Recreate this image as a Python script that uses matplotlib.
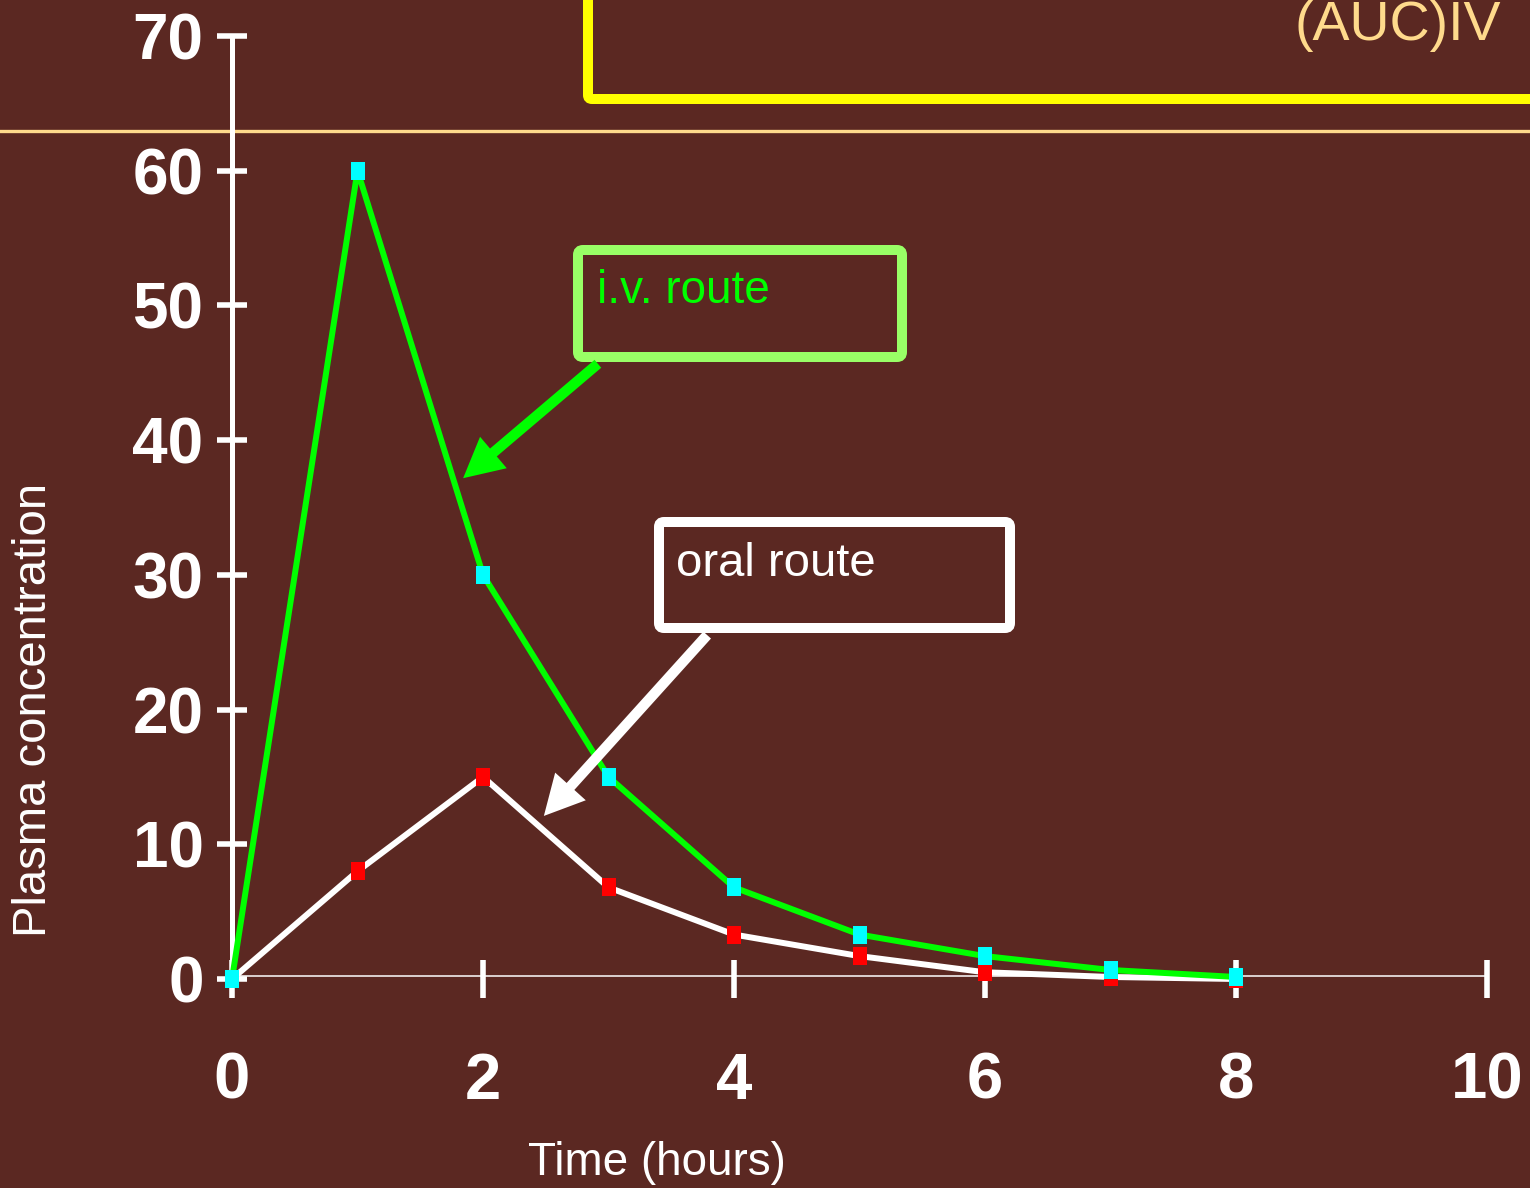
import numpy as np
import matplotlib
matplotlib.use("Agg")
import matplotlib.pyplot as plt
from matplotlib.lines import Line2D
from matplotlib.patches import FancyBboxPatch, FancyArrowPatch

plt.rcParams["font.family"] = ["Liberation Sans", "DejaVu Sans"]

# data
hours = [0, 1, 2, 3, 4, 5, 6, 7, 8]
iv_conc = [0, 60, 30, 15, 6.8, 3.3, 1.7, 0.67, 0.15]
oral_conc = [0, 8, 15, 6.8, 3.3, 1.7, 0.5, 0.15, 0]
x_ticks = [0, 2, 4, 6, 8, 10]
y_ticks = [0, 10, 20, 30, 40, 50, 60, 70]

BG = "#5B2822"
TAN = "#FFDA8C"
W, H = 1530, 1188

# tall rectangle marker, 13x18 px
RECT = [(-0.361, -0.5), (0.361, -0.5), (0.361, 0.5), (-0.361, 0.5), (-0.361, -0.5)]

fig = plt.figure(figsize=(W / 100, H / 100), dpi=100, facecolor=BG)

# horizontal rule behind everything
fig.add_artist(Line2D([0, 1], [1 - 131 / H, 1 - 131 / H], transform=fig.transFigure,
                      color=TAN, lw=2.4, zorder=-1))

ax = fig.add_axes([232 / W, 1 - 979 / H, (1487 - 232) / W, (979 - 36) / H])
ax.patch.set_visible(False)

ax.plot(hours, oral_conc, color="white", lw=4.3, zorder=3, clip_on=False)
ax.plot(hours, iv_conc, color="#00FF00", lw=4.3, zorder=4, clip_on=False)
ax.plot(hours, oral_conc, ls="none", marker=RECT, ms=13.5, mfc="#FF0000", mew=0,
        zorder=5, clip_on=False)
ax.plot(hours, iv_conc, ls="none", marker=RECT, ms=13.5, mfc="#00FFFF", mew=0,
        zorder=6, clip_on=False)

# double thin x axis line
ax.axhline(0.2, color="white", lw=1.1, zorder=2)
ax.axhline(-0.2, color="white", lw=1.1, zorder=2)

ax.set_xlim(0, 10)
ax.set_ylim(0, 70)
ax.set_xticks(x_ticks)
ax.set_yticks(y_ticks)
ax.set_xticklabels([str(t) for t in x_ticks], fontweight="bold")
ax.set_yticklabels([str(t) for t in y_ticks], fontweight="bold")
ax.tick_params(axis="x", direction="inout", length=27, width=4, color="white",
               labelcolor="white", labelsize=47, pad=39)
ax.tick_params(axis="y", direction="inout", length=21, width=4, color="white",
               labelcolor="white", labelsize=46, pad=10)
for lbl in ax.get_xticklabels():
    lbl.set_x(lbl.get_position()[0])

for s in ["top", "right", "bottom"]:
    ax.spines[s].set_visible(False)
ax.spines["left"].set_color("white")
ax.spines["left"].set_linewidth(3.6)

# overlay in pixel coords for callouts and labels
ov = fig.add_axes([0, 0, 1, 1], zorder=5)
ov.set_xlim(0, W)
ov.set_ylim(H, 0)
ov.patch.set_visible(False)
ov.axis("off")

ov.text(34, 710, "Plasma concentration", rotation=90, ha="center", va="center",
        color="white", fontsize=34)
ov.text(657, 1175, "Time (hours)", ha="center", va="baseline", color="white", fontsize=33)

# yellow formula box (cut by slide edge)
ov.add_patch(FancyBboxPatch((588, -40), 980, 139, boxstyle="round,pad=0,rounding_size=4",
                            fc="none", ec="#FFFF00", lw=7.2, clip_on=False))
ov.text(1501, 40, "(AUC)IV", ha="right", va="baseline", color=TAN, fontsize=40)

# i.v. route callout
ov.add_patch(FancyBboxPatch((578, 250), 324, 107, boxstyle="round,pad=0,rounding_size=5",
                            fc="none", ec="#99FF66", lw=7.2))
ov.text(597, 303, "i.v. route", ha="left", va="baseline", color="#00FF00", fontsize=33)
ov.add_patch(FancyArrowPatch((600, 362), (461, 480), mutation_scale=22,
                             arrowstyle="simple,head_length=1.3,head_width=1.35,tail_width=0.34",
                             fc="#00FF00", ec="none", lw=0))

# oral route callout
ov.add_patch(FancyBboxPatch((659, 522), 351, 106, boxstyle="round,pad=0,rounding_size=5",
                            fc="none", ec="white", lw=7.2))
ov.text(676, 576, "oral route", ha="left", va="baseline", color="white", fontsize=34)
ov.add_patch(FancyArrowPatch((709, 633), (542, 818), mutation_scale=22,
                             arrowstyle="simple,head_length=1.3,head_width=1.35,tail_width=0.34",
                             fc="white", ec="none", lw=0))

fig.savefig("out.png", dpi=100, facecolor=BG)
